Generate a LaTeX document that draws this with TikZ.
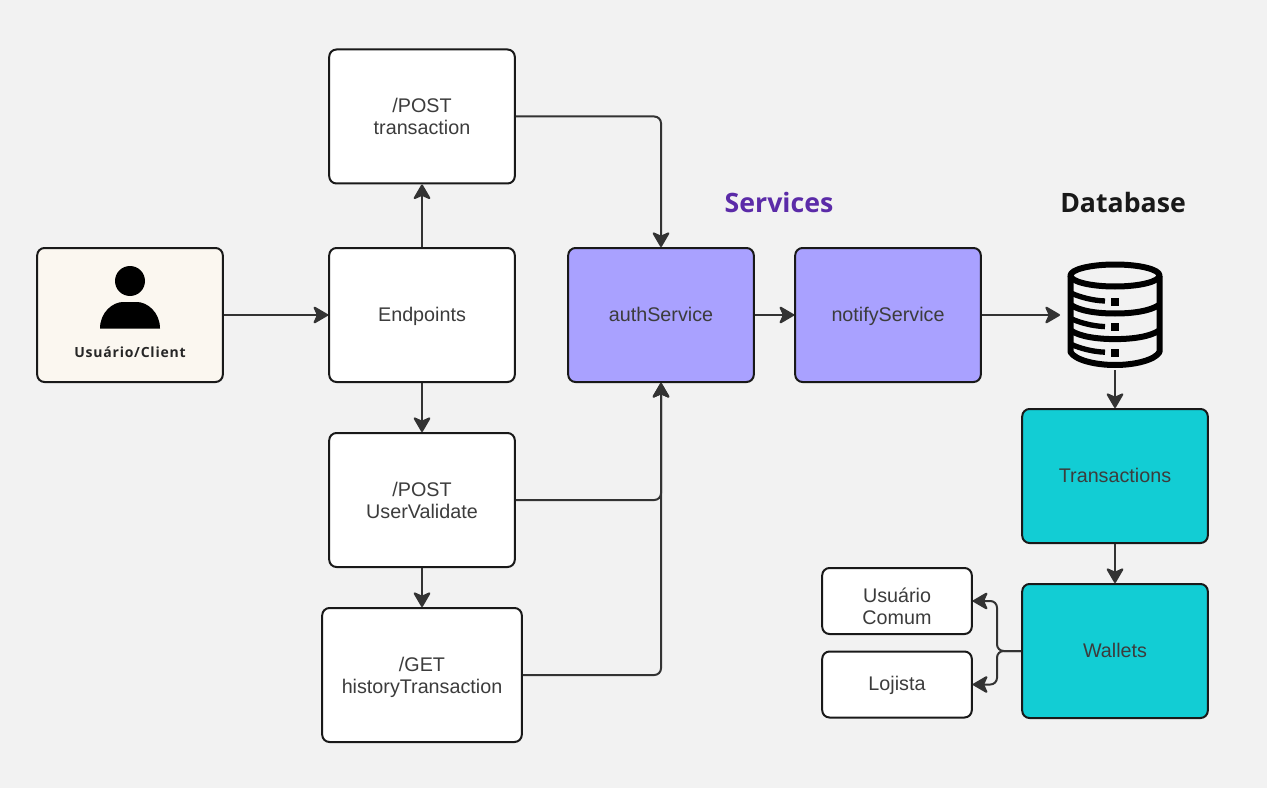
\documentclass[tikz,border=0pt]{standalone}
\usepackage{fontspec}
\setmainfont{Liberation Sans}
\newfontfamily\opensans{Open Sans}
\newfontfamily\opensanswide[LetterSpace=5.5]{Open Sans}
\usetikzlibrary{arrows.meta}
\definecolor{bgc}{HTML}{F2F2F2}
\definecolor{edgec}{HTML}{333333}
\definecolor{labelc}{HTML}{3C3C3C}
\definecolor{cream}{HTML}{FBF7F0}
\definecolor{lilac}{HTML}{A9A1FF}
\definecolor{teal}{HTML}{12CDD4}
\definecolor{purp}{HTML}{5B2BA8}
\newcommand{\pushtext}[1]{\rule{0pt}{#1}}
\tikzset{
  x=0.75pt,y=-0.75pt,
  boxbase/.style={draw=black!90,line width=1.5pt,rounded corners=5.5pt,inner sep=0pt,align=center,
    text=labelc,font=\fontsize{14.8}{16.5}\selectfont,minimum width=139.2pt,minimum height=100.5pt},
  oneline/.style={text height=12pt,text depth=3pt},
  whitebox/.style={boxbase,fill=white},
  creambox/.style={boxbase,fill=cream},
  lilacbox/.style={boxbase,fill=lilac},
  tealbox/.style={boxbase,fill=teal},
  smallbox/.style={boxbase,fill=white,minimum width=112.2pt,minimum height=49.5pt},
  widebox/.style={boxbase,fill=white,minimum width=149.7pt},
  link/.style={draw=edgec,line width=1.5pt,rounded corners=5pt,
    -{Stealth[length=12.5pt,width=14.5pt,inset=3.2pt,round]}},
  heading/.style={font=\opensans\bfseries\fontsize{20}{24}\selectfont},
  dbline/.style={draw=black,line width=4.5pt,line cap=butt,line join=round}
}
\begin{document}
\begin{tikzpicture}
\useasboundingbox (0,0) rectangle (1267,788);
\fill[bgc] (0,0) rectangle (1267,788);
% boxes
\node[creambox] (client) at (130,315) {};
\node[whitebox,oneline] (endpoints) at (422,315) {Endpoints};
\node[whitebox] (posttx) at (422,116.5) {/POST\\transaction};
\node[whitebox] (uservalidate) at (422,500) {/POST\\UserValidate};
\node[widebox] (history) at (422,675) {\pushtext{14.5pt}/GET\\historyTransaction};
\node[lilacbox,oneline] (auth) at (661,315) {authService};
\node[lilacbox,oneline] (notify) at (888,315) {notifyService};
\node[tealbox,oneline] (transactions) at (1115,476) {Transactions};
\node[tealbox,oneline] (wallets) at (1115,651) {Wallets};
\node[smallbox] (comum) at (897,601) {\pushtext{19.5pt}Usuário\\Comum};
\node[smallbox,oneline] (lojista) at (897,684.5) {Lojista};
% labels
\node[heading,text=purp] (services) at (779,202) {Services};
\node[heading,text=black!90] (database) at (1123,202) {Database};
\node[text=black!85,font=\opensanswide\bfseries\fontsize{10.5}{12}\selectfont] (clientlabel) at (130,352) {Usuário/Client};
% person icon
\fill[black] (130,281) circle[radius=15];
\fill[black] (100,328.5) .. controls (100,312) and (113,302) .. (123,302) -- (137,302)
  .. controls (147,302) and (160,312) .. (160,328.5) -- cycle;
% database icon
\draw[dbline] (1115,275.5) ellipse[x radius=44.5, y radius=11];
\draw[dbline] (1070.5,276) -- (1070.5,352) .. controls (1075,360) and (1095,365) .. (1115,365)
  .. controls (1135,365) and (1155,360) .. (1159.5,352) -- (1159.5,276);
\foreach \dy in {0,25.6}{
  \draw[dbline] (1071,\dy+305) .. controls (1080,\dy+311) and (1097,\dy+313.5) .. (1115,\dy+313.5)
    .. controls (1133,\dy+313.5) and (1150,\dy+311) .. (1159,\dy+305);
}
\foreach \dy in {0,25.6,51.2}{
  \draw[black,line width=4pt] (1072,\dy+293.5) .. controls (1080,\dy+297) and (1092,\dy+300.5) .. (1105,\dy+301);
  \fill[black] (1111,\dy+297.5) rectangle (1118.5,\dy+305.5);
}
\coordinate (dbin) at (1060,315);
\coordinate (dbout) at (1115,370);
% connectors
\draw[link] (client.east) -- (endpoints.west);
\draw[link] (endpoints.north) -- (posttx.south);
\draw[link] (endpoints.south) -- (uservalidate.north);
\draw[link] (uservalidate.south) -- (history.north);
\draw[link] (posttx.east) -| (auth.north);
\draw[link] (uservalidate.east) -| (auth.south);
\draw[link] (history.east) -| (auth.south);
\draw[link] (auth.east) -- (notify.west);
\draw[link] (notify.east) -- (dbin);
\draw[link] (dbout) -- (transactions.north);
\draw[link] (transactions.south) -- (wallets.north);
\coordinate (split) at (997,651);
\draw[link] (wallets.west) -- (split) |- (comum.east);
\draw[link] (wallets.west) -- (split) |- (lojista.east);
\end{tikzpicture}
\end{document}
